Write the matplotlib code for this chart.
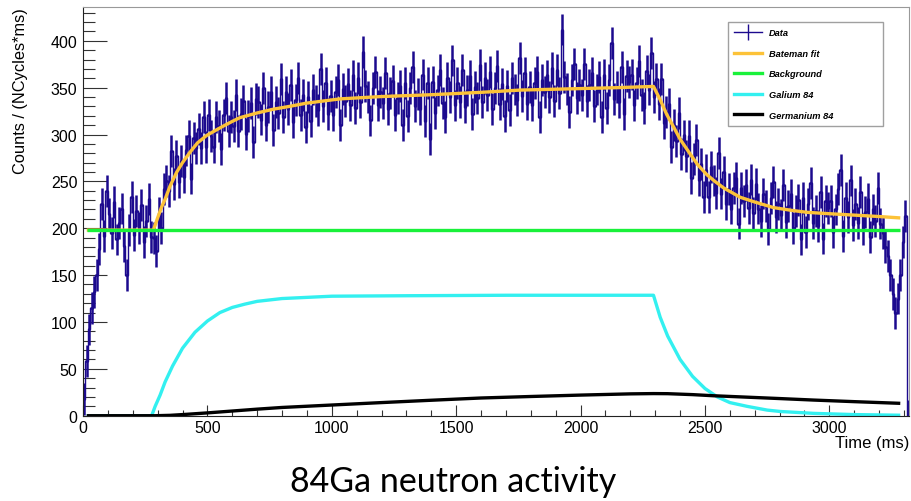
import numpy as np
import matplotlib
matplotlib.use('Agg')
import matplotlib.pyplot as plt
from matplotlib.lines import Line2D
from matplotlib.ticker import MultipleLocator

plt.rcParams['font.family'] = ['Liberation Sans', 'DejaVu Sans']

# measured counts, 10 ms bins starting at 0 ms
data_counts = [
    18, 58, 92, 115, 132, 150, 178, 226, 192, 240,
    215, 195, 228, 188, 206, 221, 181, 150, 198, 233,
    193, 218, 200, 225, 185, 208, 231, 191, 190, 176,
    216, 200, 242, 250, 240, 282, 247, 277, 249, 272,
    255, 283, 298, 253, 296, 286, 306, 286, 319, 287,
    321, 298, 287, 319, 309, 285, 321, 339, 304, 319,
    309, 342, 304, 322, 336, 301, 320, 334, 292, 338,
    335, 316, 350, 310, 329, 345, 305, 335, 323, 359,
    319, 345, 327, 353, 313, 337, 360, 321, 342, 308,
    340, 314, 348, 336, 326, 370, 330, 355, 322, 341,
    321, 345, 358, 310, 349, 336, 354, 331, 363, 328,
    360, 335, 388, 352, 340, 315, 350, 367, 331, 345,
    334, 366, 327, 344, 357, 321, 339, 352, 310, 355,
    320, 350, 372, 330, 343, 327, 364, 314, 355, 295,
    356, 323, 347, 369, 334, 319, 360, 340, 379, 331,
    355, 335, 369, 329, 347, 362, 322, 351, 339, 374,
    335, 360, 342, 367, 327, 350, 373, 333, 354, 320,
    352, 326, 360, 348, 337, 382, 341, 366, 333, 351,
    331, 355, 367, 319, 358, 345, 363, 340, 371, 336,
    369, 344, 412, 361, 349, 324, 358, 375, 339, 353,
    342, 375, 336, 353, 366, 330, 348, 361, 319, 364,
    328, 358, 398, 338, 351, 335, 372, 322, 362, 356,
    364, 331, 355, 378, 342, 328, 368, 348, 387, 340,
    359, 333, 359, 312, 324, 333, 287, 310, 293, 323,
    279, 299, 277, 298, 254, 274, 294, 251, 269, 233,
    262, 233, 265, 251, 238, 280, 237, 260, 226, 242,
    221, 243, 254, 205, 243, 229, 246, 222, 252, 216,
    247, 221, 208, 237, 224, 199, 232, 249, 212, 226,
    214, 246, 207, 224, 236, 200, 218, 230, 188, 232,
    196, 226, 248, 206, 218, 202, 239, 189, 229, 222,
    229, 196, 220, 242, 262, 192, 232, 212, 251, 203,
    226, 206, 239, 199, 217, 231, 191, 220, 208, 243,
    205, 195, 180, 170, 150, 130, 110, 125, 150, 185,
    213, 0,
]
data_err = 17
data_time = np.arange(5, 3320, 10)

# Bateman fit
fit_time = [15, 283, 300, 315, 330, 350, 377, 400, 430, 460, 497, 530, 564,
            600, 631, 700, 765, 830, 899, 1033, 1200, 1395, 1600, 1757, 2000,
            2150, 2293, 2320, 2347, 2374, 2400, 2441, 2470, 2508, 2540, 2575,
            2642, 2700, 2776, 2850, 2910, 3000, 3100, 3200, 3285]
fit_counts = [198, 198, 211, 222, 231, 245, 260, 270, 281, 291, 299, 304, 309,
              314, 318, 323, 327, 330, 333.5, 338, 340.5, 342.4, 345, 347.4, 349,
              350, 351.3, 337, 321, 308, 295, 279, 268, 257, 250, 243,
              233, 228, 222, 219, 217, 215.5, 214, 212.5, 211]

# constant background
bkg_time = [15, 3285]
bkg_counts = [198, 198]

# 84Ga component
ga_time = [15, 276, 290, 310, 330, 360, 400, 450, 500, 550, 600, 650, 700,
           800, 1000, 1300, 1700, 2293, 2320, 2350, 2400, 2450, 2500, 2550,
           2600, 2669, 2750, 2803, 2937, 3100, 3285]
ga_counts = [0, 0, 10, 22, 36, 53, 72, 89, 101, 110, 115.5, 119, 122,
             125, 127.5, 128, 128.5, 128.5, 105, 85, 60, 42, 29, 20,
             14, 10, 6, 4.5, 2.5, 1.2, 0.5]

# 84Ge component
ge_time = [15, 290, 350, 400, 500, 600, 700, 800, 1000, 1200, 1400, 1600,
           1800, 2000, 2200, 2293, 2350, 2450, 2534, 2650, 2800, 2936, 3100, 3285]
ge_counts = [0, 0, 0.4, 1.2, 3, 5, 7, 8.8, 11.4, 14, 16.5, 18.9,
             20.5, 22, 23.3, 23.6, 23.5, 22.5, 21.3, 20, 18.3, 16.7, 15, 13.2]

c_data = '#1c0a8e'
c_fit = '#fcc238'
c_bkg = '#19f13a'
c_ga = '#33f0f0'
c_ge = '#000000'

fig = plt.figure(figsize=(9.12, 5.02), dpi=100)
ax = fig.add_axes([0.0910, 0.1699, 0.9057, 0.8141])

ax.plot(data_time, data_counts, drawstyle='steps-mid', color=c_data, lw=1.0)
ax.errorbar(data_time, data_counts, xerr=5, yerr=data_err, fmt='none',
            ecolor=c_data, elinewidth=1.8)
ax.plot(fit_time, fit_counts, color=c_fit, lw=2.4, solid_capstyle='butt')
ax.plot(bkg_time, bkg_counts, color=c_bkg, lw=2.4, solid_capstyle='butt')
ax.plot(ga_time, ga_counts, color=c_ga, lw=2.4, solid_capstyle='butt')
ax.plot(ge_time, ge_counts, color=c_ge, lw=2.4, solid_capstyle='butt')

ax.set_xlim(0, 3320)
ax.set_ylim(0, 436)
ax.xaxis.set_major_locator(MultipleLocator(500))
ax.xaxis.set_minor_locator(MultipleLocator(100))
ax.yaxis.set_major_locator(MultipleLocator(50))
ax.yaxis.set_minor_locator(MultipleLocator(10))
ax.tick_params(axis='both', which='both', direction='in', top=False, right=False,
               colors='#333333', labelcolor='black', labelsize=11.5, width=0.8)
ax.tick_params(axis='y', which='major', length=17, pad=4)
ax.tick_params(axis='y', which='minor', length=8.6)
ax.tick_params(axis='x', which='major', length=8, pad=3)
ax.tick_params(axis='x', which='minor', length=4)
for s in ['top', 'right']:
    ax.spines[s].set_color('#999999')
for s in ['left', 'bottom']:
    ax.spines[s].set_color('#222222')

ax.set_ylabel('Counts / (NCycles*ms)', fontsize=11.8, loc='top', labelpad=16)
ax.set_xlabel('Time (ms)', fontsize=12, loc='right', labelpad=0)

handles = [
    Line2D([], [], color=c_data, lw=1, marker='|', markersize=12, mew=1),
    Line2D([], [], color=c_fit, lw=2.4),
    Line2D([], [], color=c_bkg, lw=2.4),
    Line2D([], [], color=c_ga, lw=2.4),
    Line2D([], [], color=c_ge, lw=2.4),
]
labels = ['Data', 'Bateman fit', 'Background', 'Galium 84', 'Germanium 84']
leg = ax.legend(handles, labels, loc='upper left',
                bbox_to_anchor=(0.781, 0.963, 0.1875, 0.0), mode='expand',
                prop={'size': 6.7, 'weight': 'bold', 'style': 'italic'},
                frameon=True, fancybox=False, edgecolor='#888888',
                borderpad=0.65, labelspacing=1.25, handlelength=3.0,
                handletextpad=0.75, borderaxespad=0)
leg.get_frame().set_linewidth(1.0)

fig.text(0.497, 0.04, '84Ga neutron activity', ha='center', va='center',
         fontsize=24.5, family=['Lato', 'DejaVu Sans'])

fig.savefig('out.png', dpi=100)
